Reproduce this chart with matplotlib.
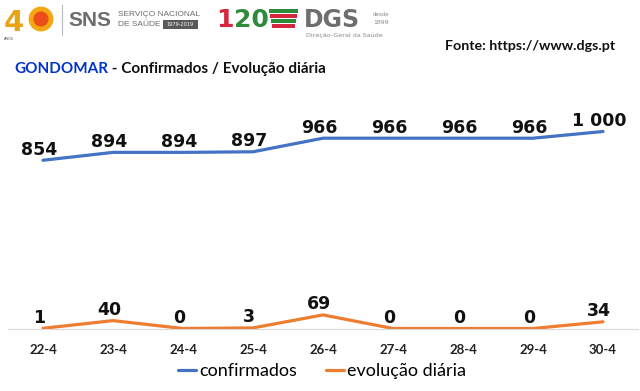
import numpy as np
import matplotlib
matplotlib.use("Agg")
import matplotlib.pyplot as plt
from matplotlib.patches import Rectangle, Ellipse

# data
dates = ["22-4", "23-4", "24-4", "25-4", "26-4", "27-4", "28-4", "29-4", "30-4"]
confirmados = [854, 894, 894, 897, 966, 966, 966, 966, 1000]
evolucao = [1, 40, 0, 3, 69, 0, 0, 0, 34]
labels_conf = ["854", "894", "894", "897", "966", "966", "966", "966", "1 000"]

BLUE = "#4472C4"
ORANGE = "#ED7D31"
CAL = "Lato"

fig = plt.figure(figsize=(6.4, 3.91), dpi=100)
W, H = 640.0, 391.0

def px(x, y):
    # pixel coords (top-left origin) -> figure fraction
    return x / W, 1 - y / H

ax = fig.add_axes([8 / W, (391 - 328.5) / H, 630 / W, 1100 * 0.197 / H])
x = np.arange(len(dates))
ax.plot(x, confirmados, color=BLUE, lw=2.3, solid_capstyle="round", label="confirmados")
ax.plot(x, evolucao, color=ORANGE, lw=2.3, solid_capstyle="round", label="evolução diária")
ax.set_xlim(-0.5, 8.5)
ax.set_ylim(0, 1100)

for i in range(len(dates)):
    ax.annotate(labels_conf[i], (x[i], confirmados[i]), xytext=(-3, 4), textcoords="offset points",
                ha="center", va="baseline", fontsize=12.5, fontweight="bold", color="#111111",
                family="DejaVu Sans")
    ax.annotate(str(evolucao[i]), (x[i], evolucao[i]), xytext=(-3, 4), textcoords="offset points",
                ha="center", va="baseline", fontsize=12.5, fontweight="bold", color="#111111",
                family="DejaVu Sans")

for s in ["top", "right", "left"]:
    ax.spines[s].set_visible(False)
ax.spines["bottom"].set_color("#d9d9d9")
ax.set_yticks([])
ax.set_xticks(x)
ax.set_xticklabels(dates, fontsize=9.5, fontweight="bold", family=CAL, color="#222222")
ax.tick_params(axis="x", length=0, pad=11)

leg = fig.legend(loc="center", bbox_to_anchor=px(322, 371), ncol=2, frameon=False,
                 prop={"family": CAL, "size": 13}, handlelength=1.0, handletextpad=0.15,
                 columnspacing=1.6)

# title
t1 = fig.text(*px(14, 69), "GONDOMAR", color="#0033CC", fontsize=11, fontweight="bold",
              family=CAL, va="center")
fig.canvas.draw()
bb = t1.get_window_extent()
fig.text(bb.x1 / W, px(0, 69)[1], " - Confirmados / Evolução diária", color="#111111",
         fontsize=11, fontweight="bold", family=CAL, va="center")
fig.text(*px(615, 46), "Fonte: https://www.dgs.pt", ha="right", va="center", fontsize=10.3,
         fontweight="bold", family=CAL, color="#111111")

# header logos (rough approximation)
fig.text(*px(4, 37), "4", color="#E8A317", fontsize=21, fontweight="bold", family="DejaVu Sans",
         va="bottom")
fig.patches.append(Ellipse(px(41, 19), 20 / W, 20 / H, transform=fig.transFigure,
                           facecolor="#E94E1B", edgecolor="#F3A712", lw=3.5))
fig.text(*px(4, 37), "ANOS", fontsize=2.5, family="DejaVu Sans", color="#555555", va="top")
fig.lines.append(plt.Line2D([62 / W, 62 / W], [1 - 5 / H, 1 - 35 / H], transform=fig.transFigure,
                            color="#bbbbbb", lw=0.8))
fig.text(*px(68, 20), "SNS", color="#6d6e70", fontsize=15, fontweight="bold",
         family="Liberation Sans", va="center")
fig.text(*px(118, 14), "SERVIÇO NACIONAL", color="#6d6e70", fontsize=6, family="Liberation Sans",
         va="center")
fig.text(*px(118, 25), "DE SAÚDE", color="#6d6e70", fontsize=6, family="Liberation Sans",
         va="center")
fig.patches.append(Rectangle(px(163, 28.5), 35 / W, 8 / H, transform=fig.transFigure,
                             facecolor="#58595b", edgecolor="none"))
fig.text(*px(180.5, 24.5), "1979-2019", color="white", fontsize=3.6, family="DejaVu Sans",
         ha="center", va="center")
t120 = fig.text(*px(216, 20), "1", color="#D7263D", fontsize=18, fontweight="bold",
                family="DejaVu Sans", va="center")
fig.canvas.draw()
b1 = t120.get_window_extent()
fig.text(b1.x1 / W, px(0, 20)[1], "20", color="#2E8B3A", fontsize=18, fontweight="bold",
         family="DejaVu Sans", va="center")
for k, c in enumerate(["#2E8B3A", "#D7263D", "#2E8B3A", "#D7263D"]):
    fig.patches.append(Rectangle(px(269 + k, 13 + 5 * k), (29 - 2 * k) / W, 4 / H,
                                 transform=fig.transFigure, facecolor=c, edgecolor="none"))
fig.text(*px(304, 27), "DGS", color="#6d6e70", fontsize=17, fontweight="bold", family="DejaVu Sans",
         va="baseline")
fig.text(*px(373, 14), "desde", color="#888888", fontsize=4, family="DejaVu Sans", va="center")
fig.text(*px(373, 22), "1899", color="#888888", fontsize=4.5, family="DejaVu Sans", va="center")
fig.text(*px(306, 33), "Direção-Geral da Saúde", color="#888888", fontsize=4.6, family="DejaVu Sans",
         va="top")

fig.savefig("out.png", dpi=100)
